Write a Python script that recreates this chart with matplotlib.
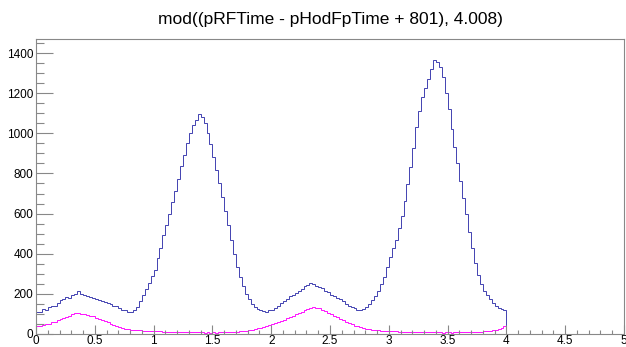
import numpy as np
import matplotlib
matplotlib.use("Agg")
import matplotlib.pyplot as plt
from matplotlib.ticker import MultipleLocator

plt.rcParams['font.family'] = ['Liberation Sans', 'DejaVu Sans']

# histogram binning (0.025 wide bins from 0 to 4, then empty up to 5)
bin_width = 0.025
x_max = 5.0

# blue: all events, 8 bins per row (each row spans 0.2)
counts_all = [
    108, 112, 125, 118, 135, 142, 138, 155,
    168, 176, 182, 180, 192, 200, 212, 198,
    196, 190, 186, 178, 175, 170, 162, 160,
    156, 150, 140, 138, 128, 122, 118, 112,
    112, 118, 135, 162, 192, 222, 255, 290,
    318, 380, 430, 492, 545, 600, 660, 712,
    770, 835, 892, 950, 1000, 1040, 1065, 1095,
    1080, 1050, 1000, 945, 880, 815, 750, 685,
    615, 545, 470, 400, 335, 285, 238, 200,
    172, 150, 135, 126, 118, 114, 112, 118,
    122, 130, 140, 152, 165, 175, 188, 195,
    205, 215, 222, 238, 242, 255, 248, 240,
    236, 228, 215, 208, 196, 190, 180, 172,
    162, 150, 140, 135, 128, 122, 118, 125,
    135, 150, 168, 190, 215, 248, 285, 335,
    385, 430, 470, 530, 590, 665, 745, 830,
    925, 1030, 1110, 1180, 1225, 1270, 1320, 1365,
    1355, 1330, 1280, 1200, 1120, 1020, 930, 850,
    760, 680, 600, 510, 430, 355, 295, 250,
    215, 195, 175, 155, 140, 130, 125, 118,
]

# magenta: selected events
counts_sel = [
    38, 42, 45, 50, 52, 58, 62, 68,
    74, 80, 85, 92, 98, 104, 106, 100,
    98, 95, 92, 88, 82, 76, 70, 64,
    58, 52, 44, 40, 35, 30, 27, 25,
    22, 20, 19, 18, 16, 15, 16, 14,
    14, 13, 13, 12, 12, 11, 12, 10,
    10, 11, 9, 9, 10, 8, 9, 8,
    8, 7, 8, 7, 8, 7, 8, 9,
    8, 9, 10, 11, 12, 14, 16, 17,
    19, 22, 25, 28, 32, 36, 40, 45,
    48, 54, 60, 66, 72, 80, 86, 92,
    98, 105, 112, 120, 126, 132, 135, 130,
    128, 122, 114, 106, 98, 92, 84, 76,
    70, 62, 55, 48, 42, 38, 34, 30,
    27, 24, 22, 20, 18, 17, 16, 15,
    14, 13, 13, 12, 11, 11, 10, 10,
    10, 9, 9, 9, 8, 9, 8, 8,
    8, 8, 7, 8, 8, 7, 8, 8,
    9, 8, 9, 10, 10, 11, 11, 12,
    13, 14, 16, 18, 21, 25, 30, 38,
]

title = "mod((pRFTime - pHodFpTime + 801), 4.008)"

n = len(counts_all)
edges = np.append(np.arange(n + 1) * bin_width, x_max)
h_all = np.append(counts_all, 0)
h_sel = np.append(counts_sel, 0)

fig = plt.figure(figsize=(6.26, 3.47), dpi=100)
ax = fig.add_axes([36 / 626, 13 / 347, 588 / 626, 295 / 347])

ax.stairs(h_all, edges, color='#3535ac', lw=0.65)
ax.stairs(h_sel, edges, color='#ff00ff', lw=0.65)

ax.set_xlim(0, 5)
ax.set_ylim(0, 1470)
ax.xaxis.set_major_locator(MultipleLocator(0.5))
ax.xaxis.set_minor_locator(MultipleLocator(0.1))
ax.yaxis.set_major_locator(MultipleLocator(200))
ax.yaxis.set_minor_locator(MultipleLocator(50))
ax.xaxis.set_major_formatter(matplotlib.ticker.FuncFormatter(lambda v, p: f"{v:g}"))

for s in ax.spines.values():
    s.set_color('#888888')
    s.set_linewidth(0.8)

ax.tick_params(axis='both', which='both', direction='in', color='#888888',
               labelsize=8.5, width=0.8, top=False, right=False)
ax.tick_params(axis='x', which='major', length=6.5, pad=1)
ax.tick_params(axis='x', which='minor', length=3.2)
ax.tick_params(axis='y', which='major', length=12.2, pad=2)
ax.tick_params(axis='y', which='minor', length=6.1)

fig.text(330 / 626, 1 - 24 / 347, title, ha='center', va='baseline', fontsize=12.5)

fig.savefig("out.png", dpi=100)
